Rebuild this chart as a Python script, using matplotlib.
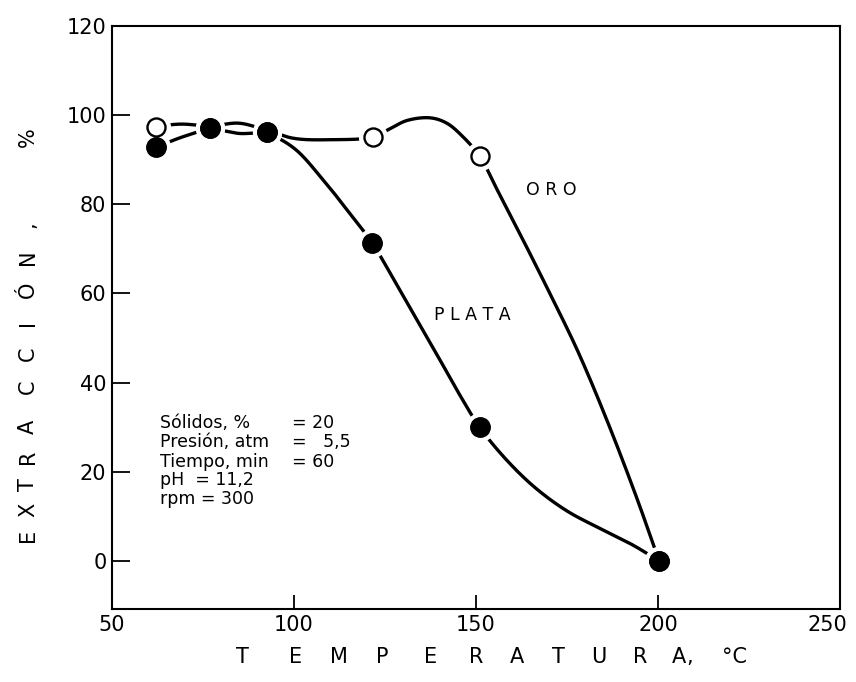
import numpy as np
import matplotlib
matplotlib.use("Agg")
import matplotlib.pyplot as plt
import matplotlib.transforms as mtransforms

# measured points (temperature C, extraction %)
oro_t = [62, 77, 92.5, 121.7, 151, 200.3]
oro_y = [97.4, 97.1, 96.2, 95.1, 90.8, 0]
plata_t = [62, 77, 92.5, 121.5, 151, 200.3]
plata_y = [92.8, 97.1, 96.2, 71.3, 30, 0]

# hand-drawn curves
oro_curve_t = [62, 69, 77, 85, 92.5, 100, 110, 121.7, 126, 131, 137.5, 142, 146, 151,
               156, 162, 170, 178, 186, 194, 200.3]
oro_curve_y = [97.5, 98.0, 97.6, 98.2, 96.6, 94.8, 94.5, 95.1, 96.8, 98.8, 99.4, 98.2, 95.5, 90.8,
               83, 73.5, 60.5, 47, 31.5, 14.5, 0]
plata_curve_t = [62, 70, 77, 85, 92.5, 100, 108, 115, 121.5, 128, 135, 141, 146, 151,
                 158, 166, 175, 185, 193, 200.3]
plata_curve_y = [92.8, 95.3, 96.8, 95.9, 95.8, 92.6, 85.5, 78.3, 71.3, 62.3, 52.3, 43.8, 36.6, 30,
                 23, 16.6, 11.2, 6.9, 3.6, 0]

yticks = [0, 20, 40, 60, 80, 100, 120]
xticks = [50, 100, 150, 200, 250]
conditions = [("Sólidos, %", "= 20"), ("Presión, atm", "=   5,5"), ("Tiempo, min", "= 60"),
              ("pH  = 11,2", ""), ("rpm = 300", "")]


def smooth(x, y, n=30):
    # centripetal catmull-rom through the traced points
    p = np.column_stack([x, y]).astype(float)
    p = np.vstack([2 * p[0] - p[1], p, 2 * p[-1] - p[-2]])
    out = []
    for i in range(len(p) - 3):
        p0, p1, p2, p3 = p[i:i + 4]
        t0 = 0.0
        t1 = t0 + np.linalg.norm(p1 - p0) ** 0.5
        t2 = t1 + np.linalg.norm(p2 - p1) ** 0.5
        t3 = t2 + np.linalg.norm(p3 - p2) ** 0.5
        t = np.linspace(t1, t2, n)[:, None]
        a1 = (t1 - t) / (t1 - t0) * p0 + (t - t0) / (t1 - t0) * p1
        a2 = (t2 - t) / (t2 - t1) * p1 + (t - t1) / (t2 - t1) * p2
        a3 = (t3 - t) / (t3 - t2) * p2 + (t - t2) / (t3 - t2) * p3
        b1 = (t2 - t) / (t2 - t0) * a1 + (t - t0) / (t2 - t0) * a2
        b2 = (t3 - t) / (t3 - t1) * a2 + (t - t1) / (t3 - t1) * a3
        out.append((t2 - t) / (t2 - t1) * b1 + (t - t1) / (t2 - t1) * b2)
    c = np.vstack(out)
    return c[:, 0], c[:, 1]


fig = plt.figure(figsize=(8.56, 6.82), dpi=100)
ax = fig.add_axes([0.1308, 0.1070, 0.8505, 0.8548])

lw = 2.4
for cx, cy in [(oro_curve_t, oro_curve_y), (plata_curve_t, plata_curve_y)]:
    sx, sy = smooth(cx, cy)
    ax.plot(sx, sy, color="black", lw=lw, solid_capstyle="round", zorder=2)

# white halos leave the small gaps round the markers
ax.plot(oro_t, oro_y, "o", ms=20, color="white", mec="white", zorder=3)
ax.plot(plata_t, plata_y, "o", ms=20, color="white", mec="white", zorder=3)
ax.plot(oro_t, oro_y, "o", ms=13, mfc="white", mec="black", mew=1.7, zorder=4)
ax.plot(plata_t, plata_y, "o", ms=14, color="black", zorder=5)

ax.set_xlim(50, 250)
ax.set_ylim(-10.8, 120)
ax.set_xticks(xticks)
ax.set_yticks(yticks)
ax.tick_params(axis="y", direction="in", length=13, width=1.3, labelsize=15, pad=4)
ax.tick_params(axis="x", direction="in", length=10, width=1.3, labelsize=15, pad=4)
for s in ax.spines.values():
    s.set_linewidth(1.5)
# the last x label sits a little left of its tick, as in the scan
last = ax.get_xticklabels()[-1]
last.set_transform(last.get_transform() + mtransforms.ScaledTranslation(-9 / 72, 0, fig.dpi_scale_trans))

ax.text(170.6, 83.2, "O R O", fontsize=12.5, ha="center", va="center")
ax.text(148.9, 55.2, "P L A T A", fontsize=12.5, ha="center", va="center")

rows_y = [31.0, 26.7, 22.2, 18.2, 13.9]
for (left, right), yy in zip(conditions, rows_y):
    ax.text(63.2, yy, left, fontsize=12.5, ha="left", va="center")
    if right:
        ax.text(99.5, yy, right, fontsize=12.5, ha="left", va="center")

# spaced-out axis titles, letter by letter
xl_letters = ["T", "E", "M", "P", "E", "R", "A", "T", "U", "R", "A", ",", "°C"]
xl_pos = [85.8, 100.3, 112.3, 124.2, 137.4, 150, 161.3, 172.6, 183.8, 195.1, 205.7, 208.8, 220.9]
tr = mtransforms.blended_transform_factory(ax.transData, fig.transFigure)
for ch, xp in zip(xl_letters, xl_pos):
    ax.text(xp, 1 - 657 / 682, ch, transform=tr, fontsize=15, ha="center", va="center")

yl_letters = ["E", "X", "T", "R", "A", "C", "C", "I", "Ó", "N", ",", "%"]
yl_pix = [535, 510, 485, 457, 427, 387, 354, 323, 290, 257, 225, 137]
for ch, yp in zip(yl_letters, yl_pix):
    fig.text(28 / 856, 1 - yp / 682, ch, fontsize=15, rotation=90, ha="center", va="center")

fig.savefig("out.png", dpi=100)
